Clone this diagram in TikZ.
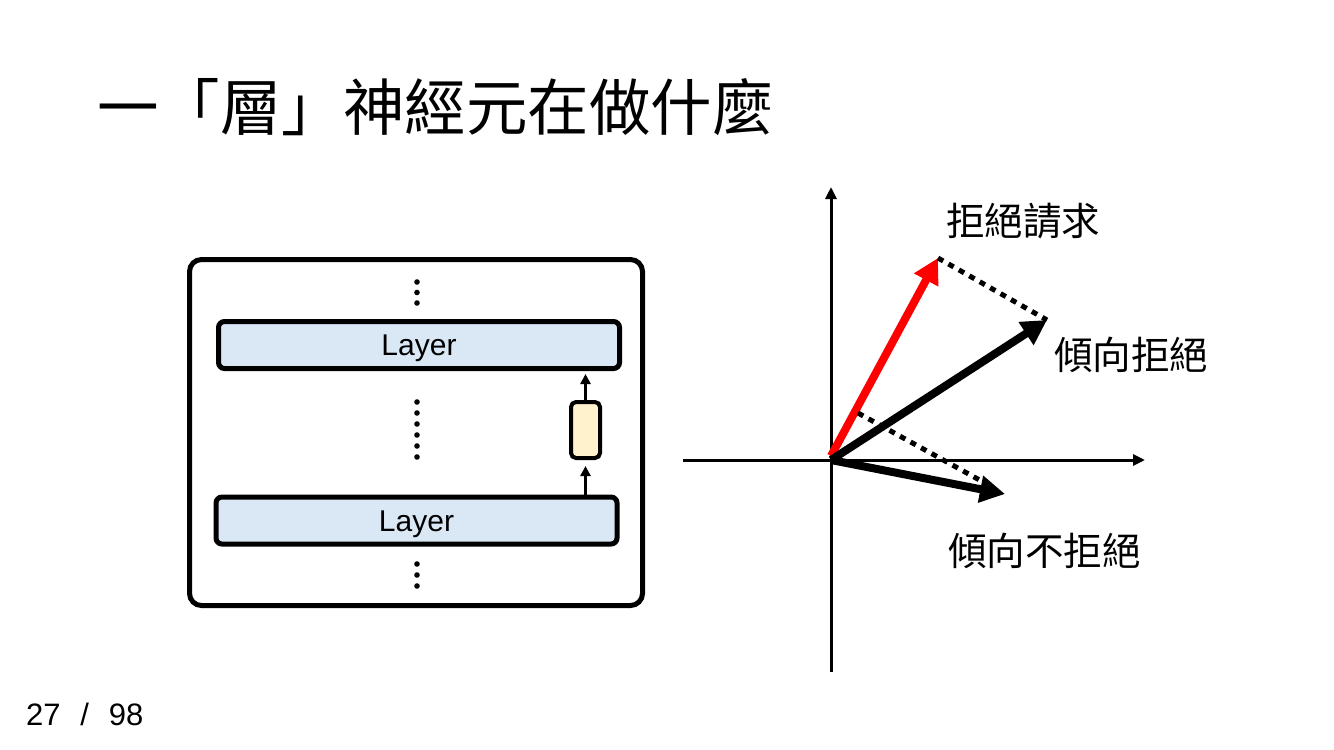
\documentclass[tikz,border=0pt]{standalone}
\usepackage{fontspec}
\setmainfont{Liberation Sans}
\newfontfamily\cjk{Noto Sans CJK TC}
\newfontfamily\pagefont[WordSpace=2.3]{Liberation Sans}
\usetikzlibrary{arrows.meta}
\definecolor{layerblue}{RGB}{218,232,246}
\definecolor{boxyellow}{RGB}{255,242,204}
\definecolor{vred}{RGB}{255,0,0}
\begin{document}
\begin{tikzpicture}[x=1pt,y=-1pt,
  layerbox/.style={draw=black, line width=5pt, fill=layerblue, rounded corners=6pt,
    minimum width=401pt, minimum height=47pt, inner sep=0pt,
    font=\fontsize{30}{36}\selectfont, text height=21.5pt, text depth=0pt},
  framebox/.style={draw=black, line width=5pt, rounded corners=12pt,
    minimum width=453pt, minimum height=346pt, inner sep=0pt},
  smallbox/.style={draw=black, line width=4pt, fill=boxyellow, rounded corners=5pt,
    minimum width=29pt, minimum height=56pt, inner sep=0pt},
  smallarrow/.style={line width=2.5pt, -{Triangle[length=10pt,width=10pt]}},
  axis/.style={line width=3pt, -{Triangle[length=12pt,width=11pt]}},
  vec/.style={line width=8pt, -{Triangle[length=25pt,width=26pt]}},
  proj/.style={line width=5pt, dash pattern=on 6pt off 6pt},
  dot/.style={fill=black},
  lbl/.style={font=\cjk\fontsize{38.5}{46}\selectfont, inner sep=0pt, anchor=west},
]
\useasboundingbox (0,0) rectangle (1334,750);

% title
\node[font=\cjk\fontsize{61.5}{74}\selectfont, inner sep=0pt, anchor=west] (title) at (97,107) {一「層」神經元在做什麼};

% page number
\node[font=\pagefont\fontsize{31}{37}\selectfont, inner sep=0pt, anchor=base west] (page) at (26,725) {27 / 98};

% left panel
\node[framebox] (frame) at (416,432.5) {};
\node[layerbox] (lay1) at (419,345) {Layer};
\node[layerbox] (lay2) at (416.5,520.5) {Layer};
\node[smallbox] (ybox) at (585.5,430) {};
\coordinate (a1s) at (ybox.south |- lay2.north);
\coordinate (a2e) at (ybox.north |- lay1.south);
\draw[smallarrow, shorten >=6pt] (a1s) -- (ybox.south);
\draw[smallarrow, shorten >=3pt] (ybox.north) -- (a2e);

\foreach \y in {282,292.5,303} \fill[dot] (417,\y) circle (2.8pt);
\foreach \y in {402,413,424,435,446,457} \fill[dot] (417,\y) circle (2.8pt);
\foreach \y in {564,575,586} \fill[dot] (417,\y) circle (2.8pt);

% vector plot
\coordinate (O) at (831,460);
\coordinate (ybot) at (831,672);
\coordinate (ytop) at (831,187);
\coordinate (xl) at (683,460);
\coordinate (xr) at (1145,460);
\coordinate (R) at (938,258);
\coordinate (A) at (1047,320);
\coordinate (B) at (1005,494);
\coordinate (P1) at (858,413);
\coordinate (P2) at (985,483);

\draw[axis] (ybot) -- (ytop);
\draw[axis] (xl) -- (xr);
\draw[vec, draw=vred, fill=vred] ([yshift=4pt]O) -- (R);
\draw[vec] (O) -- (A);
\draw[vec] (O) -- (B);
\draw[proj] (R) -- (A);
\draw[proj] (P1) -- (P2);

\node[lbl] (lr) at (946,221) {拒絕請求};
\node[lbl] (la) at (1054,355) {傾向拒絕};
\node[lbl] (lb) at (948,551) {傾向不拒絕};
\end{tikzpicture}
\end{document}
